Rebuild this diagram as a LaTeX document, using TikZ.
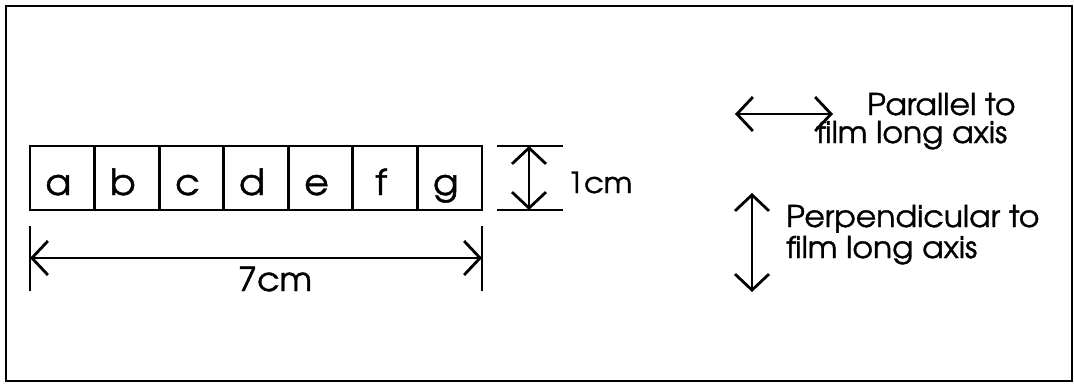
\documentclass[tikz,border=0pt]{standalone}
\usepackage{fontspec}
\setmainfont[FakeStretch=1.05, FakeBold=1.2]{texgyreadventor-regular.otf}
\usetikzlibrary{arrows.meta}
\begin{document}
\begin{tikzpicture}[x=1pt,y=-1pt,
  cell/.style={draw, line width=2.8pt, minimum width=64.57pt, minimum height=64pt, inner sep=0pt},
  celltext/.style={inner sep=0pt, anchor=base, font=\fontsize{36}{36}\selectfont},
  lbl/.style={inner sep=0pt, anchor=base west, font=\fontsize{30}{30}\selectfont},
  dimline/.style={line width=2.8pt, {Straight Barb[length=16pt,width=34pt]}-{Straight Barb[length=16pt,width=34pt]}},
  tickline/.style={line width=2.8pt}]
\useasboundingbox (0,0) rectangle (1074,383);
\draw[line width=2pt] (1072,6) -- (6,6) -- (6,381) -- (1072,381) -- cycle;
% cells
\foreach \l [count=\i] in {a,b,c,d,e,f,g} {
  \node[cell] (c\l) at ({30+64.57*(\i-0.5)},178) {};
  \node[celltext] (l\l) at ([xshift=-4pt,yshift=-17pt]c\l.center) {\l};
}
% 7cm dimension
\coordinate (L1) at (30,226);
\coordinate (L2) at (30,291);
\coordinate (R1) at (482,226);
\coordinate (R2) at (482,291);
\coordinate (LA) at (30,258);
\coordinate (RA) at (482,258);
\draw[tickline] (L1) -- (L2);
\draw[tickline] (R1) -- (R2);
\draw[dimline] (LA) -- (RA);
\node[lbl, anchor=base, font=\fontsize{33}{33}\selectfont] (t7) at (275,291) {7cm};
% 1cm dimension
\coordinate (T1) at (497,146);
\coordinate (T2) at (563,146);
\coordinate (B1) at (497,210);
\coordinate (B2) at (563,210);
\coordinate (UA) at (529,146);
\coordinate (DA) at (529,210);
\draw[tickline] (T1) -- (T2);
\draw[tickline] (B1) -- (B2);
\draw[dimline] (UA) -- (DA);
\node[lbl, font=\fontsize{29}{29}\selectfont] (t1) at (567,193) {1cm};
% legend
\coordinate (HA1) at (735,114);
\coordinate (HA2) at (833,114);
\draw[dimline] (HA1) -- (HA2);
\node[lbl] (par1) at (867,115) {Parallel to};
\node[lbl] (par2) at (816,143) {film long axis};
\coordinate (VA1) at (752,193);
\coordinate (VA2) at (752,292);
\draw[dimline] (VA1) -- (VA2);
\node[lbl] (per1) at (786,227) {Perpendicular to};
\node[lbl] (per2) at (786,258) {film long axis};
\end{tikzpicture}
\end{document}
